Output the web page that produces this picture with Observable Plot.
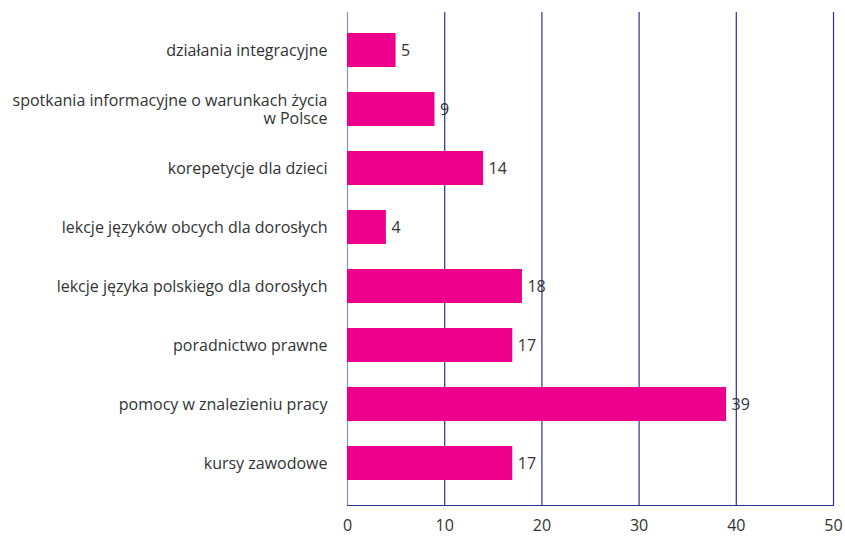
<!DOCTYPE html>
<html><head><meta charset="utf-8">
<script src="https://cdn.jsdelivr.net/npm/d3@7"></script>
<script src="https://cdn.jsdelivr.net/npm/@observablehq/plot@0.6"></script>
<style>body{margin:0;background:#fff;} svg{display:block;}</style>
</head><body><div id="chart"></div>
<script>
const categories = [
  "działania integracyjne",
  "spotkania informacyjne o warunkach życia\nw Polsce",
  "korepetycje dla dzieci",
  "lekcje języków obcych dla dorosłych",
  "lekcje języka polskiego dla dorosłych",
  "poradnictwo prawne",
  "pomocy w znalezieniu pracy",
  "kursy zawodowe"
];
const values = [5, 9, 14, 4, 18, 17, 39, 17];
const xTicks = [0, 10, 20, 30, 40, 50];

const data = categories.map((c, i) => ({category: c, value: values[i]}));
const FONT = "'Open Sans', sans-serif";
const NAVY = "#2e3192";

const chart = Plot.plot({
  width: 845, height: 536,
  marginLeft: 347, marginRight: 12, marginTop: 12, marginBottom: 31,
  style: {fontFamily: FONT, fontSize: "16px", color: "#333", background: "#fff"},
  x: {domain: [0, 50], ticks: xTicks, label: null},
  y: {domain: categories, range: [30, 482], paddingInner: 0.43, paddingOuter: 0, label: null},
  marks: [
    Plot.ruleX(xTicks.filter(d => d > 0), {stroke: NAVY, strokeWidth: 1.2}),
    Plot.ruleX([0], {stroke: "#8a8dc4", strokeWidth: 1.2}),
    Plot.frame({anchor: "bottom", stroke: NAVY, strokeWidth: 1.2}),
    Plot.barX(data, {y: "category", x: "value", fill: "#ec008c"}),
    Plot.text(data, {y: "category", x: "value", text: d => String(d.value), textAnchor: "start", dx: 5, fill: "#333", fontSize: 16}),
    Plot.axisX({ticks: xTicks, tickSize: 0, tickPadding: 14, fontSize: 16, fill: "#333"}),
    Plot.axisY({tickSize: 0, tickPadding: 20, fontSize: 16, fill: "#333", lineHeight: 1.1})
  ]
});
document.getElementById("chart").appendChild(chart);
</script></body></html>
